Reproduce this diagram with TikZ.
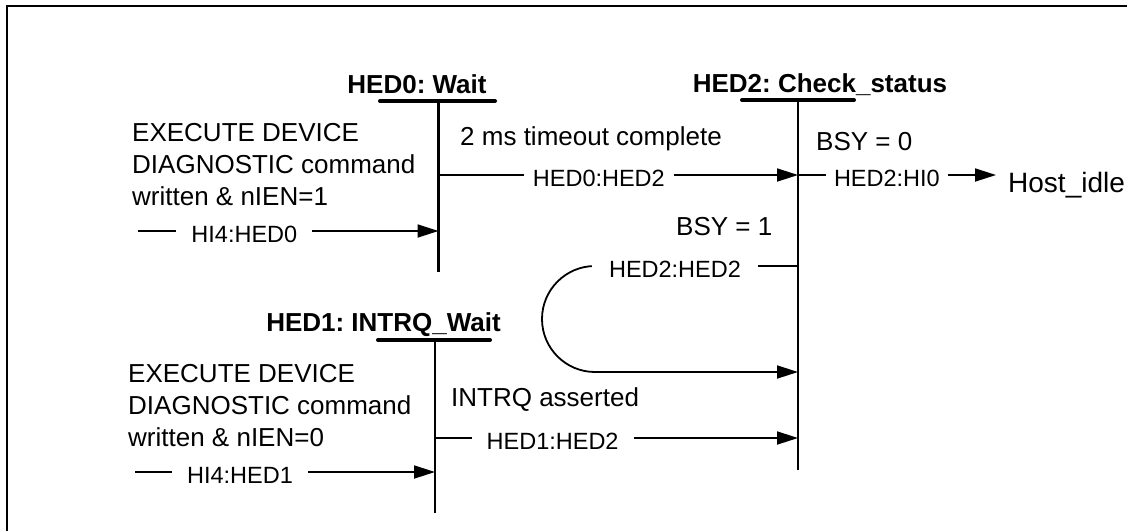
\documentclass[tikz,border=0pt]{standalone}
\usepackage{fontspec}
\setmainfont{Liberation Sans}
\usetikzlibrary{arrows.meta}
\begin{document}
\frenchspacing
\begin{tikzpicture}[x=1pt,y=-1pt,
  lifeline/.style={line width=2.2pt},
  statebar/.style={line width=4pt, line cap=round},
  title/.style={font=\fontsize{26}{30}\selectfont\bfseries, inner sep=0pt, anchor=base},
  txt/.style={font=\fontsize{26}{32}\selectfont, inner sep=0pt, anchor=base west},
  blk/.style={font=\fontsize{26}{32}\selectfont, inner sep=0pt, anchor=north west, align=left},
  lbl/.style={font=\fontsize{23.5}{28}\selectfont, fill=white, inner ysep=1pt, inner xsep=15pt, yshift=-3pt},
  arr/.style={line width=1.8pt, -{Triangle[length=21pt,width=13pt]}},
  frame/.style={line width=2pt}]
\useasboundingbox (0,0) rectangle (1127,531);
\fill[white] (0,0) rectangle (1127,531);
\draw[frame] (7,531) -- (7,6) -- (1127,6);

% lifelines
\coordinate (h0t) at (438.5,101);
\coordinate (h0b) at (438.5,272);
\coordinate (h2t) at (798,100);
\coordinate (h2b) at (798,470);
\coordinate (h1t) at (435,340);
\coordinate (h1b) at (435,513);
\draw[lifeline] (h0t) -- (h0b);
\draw[lifeline] (h2t) -- (h2b);
\draw[lifeline] (h1t) -- (h1b);
\draw[statebar] (380,101) -- (495,101);
\draw[statebar] (742,100) -- (854,100);
\draw[statebar] (378,340) -- (490,340);

% titles
\node[title] (t0) at (417,93) {HED0: Wait};
\node[title] (t2) at (820,92) {HED2: Check\_status};
\node[title] (t1) at (383.5,331) {HED1: INTRQ\_Wait};

% texts
\node[blk] (c0) at (132,123.4) {EXECUTE DEVICE\\DIAGNOSTIC command\\written \& nIEN=1};
\node[blk] (c1) at (128,364.4) {EXECUTE DEVICE\\DIAGNOSTIC command\\written \& nIEN=0};
\node[txt] (tmo) at (460,145) {2 ms timeout complete};
\node[txt] (b0) at (816,150) {BSY = 0};
\node[txt] (b1) at (676,235) {BSY = 1};
\node[txt] (iq) at (451,406) {INTRQ asserted};
\node[font=\fontsize{28}{32}\selectfont, inner sep=0pt, anchor=base west] (idle) at (1008,192) {Host\_idle};

% connectors
\coordinate (a1s) at (138,231);
\coordinate (a1e) at (438.5,231);
\draw[arr] (a1s) -- node[lbl, pos=0.354] {HI4:HED0} (a1e);

\coordinate (a2s) at (438.5,175);
\coordinate (a2e) at (798,175);
\draw[arr] (a2s) -- node[lbl, pos=0.446, inner xsep=9pt] {HED0:HED2} (a2e);

\coordinate (a3e) at (996,175);
\draw[arr] (a2e) -- node[lbl, pos=0.449, inner xsep=8pt] {HED2:HI0} (a3e);

\coordinate (a4s) at (798,266);
\coordinate (a4m) at (595,266);
\coordinate (a4e) at (798,372);
\draw[arr] (a4s) -- node[lbl, pos=0.606, inner xsep=17pt] {HED2:HED2} (a4m) arc[start angle=90, end angle=270, radius=53pt] -- (a4e);

\coordinate (a5s) at (435,438);
\coordinate (a5e) at (798,438);
\draw[arr] (a5s) -- node[lbl, pos=0.324] {HED1:HED2} (a5e);

\coordinate (a6s) at (135,472);
\coordinate (a6e) at (435,472);
\draw[arr] (a6s) -- node[lbl, pos=0.35] {HI4:HED1} (a6e);
\end{tikzpicture}
\end{document}
